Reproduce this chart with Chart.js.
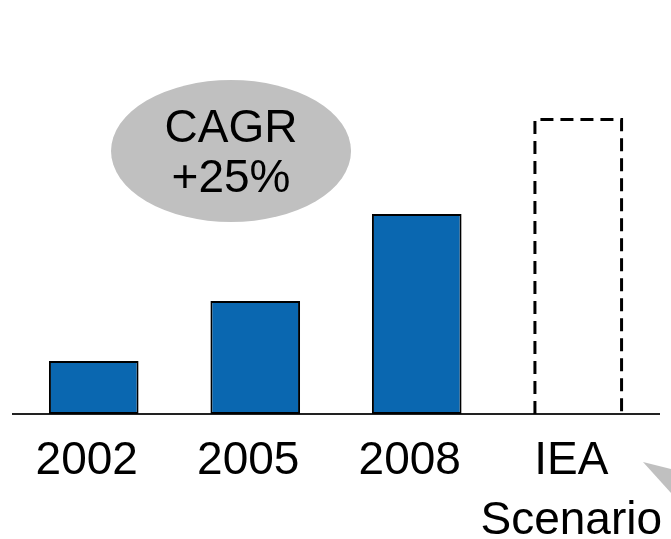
<!DOCTYPE html>
<html>
<head>
<meta charset="utf-8">
<script src="https://cdn.jsdelivr.net/npm/chart.js@4.4.1/dist/chart.umd.min.js"></script>
<style>
  html, body { margin: 0; padding: 0; background: #ffffff; }
  #wrap { width: 671px; height: 539px; position: relative; }
</style>
</head>
<body>
<div id="wrap"><canvas id="c" width="671" height="539"></canvas></div>
<script>
// ---- data ----
const categories = ["2002", "2005", "2008", ["IEA", "Scenario"]];
const values = [53, 113, 200, 296];
const isScenario = [false, false, false, true];
const yMax = 300;
const cagrLines = ["CAGR", "+25%"];

const FONT = "'Liberation Sans', Arial, Helvetica, sans-serif";
const BLUE = "#0a67b0";
const GREY = "#c0c0c0";

const overlayPlugin = {
  id: "overlay",
  beforeDatasetsDraw(chart) {
    const ctx = chart.ctx;
    const xs = chart.scales.x, ys = chart.scales.y;
    // CAGR ellipse annotation, anchored between first two categories
    const cx = xs.getPixelForValue(0.85);
    const cy = ys.getPixelForValue(263);
    ctx.save();
    ctx.fillStyle = GREY;
    ctx.beginPath();
    ctx.ellipse(cx, cy, 120, 71, 0, 0, Math.PI * 2);
    ctx.fill();
    ctx.fillStyle = "#000";
    ctx.font = "46px " + FONT;
    ctx.textAlign = "center";
    ctx.textBaseline = "middle";
    ctx.fillText(cagrLines[0], cx, cy - 22);
    ctx.fillText(cagrLines[1], cx, cy + 28);
    // grey arrow tip at bottom right
    ctx.fillStyle = GREY;
    ctx.beginPath();
    ctx.moveTo(643, 462);
    ctx.lineTo(671, 469);
    ctx.lineTo(671, 493);
    ctx.closePath();
    ctx.fill();
    ctx.restore();
  },
  afterDatasetsDraw(chart) {
    const ctx = chart.ctx;
    const meta = chart.getDatasetMeta(0);
    meta.data.forEach((bar, i) => {
      if (!isScenario[i]) return;
      const p = bar.getProps(["x", "y", "base", "width"], true);
      const lw = 3;
      const left = p.x - p.width / 2 + lw / 2;
      const right = p.x + p.width / 2 - lw / 2;
      const top = p.y + lw / 2;
      const bottom = p.base;
      ctx.save();
      ctx.strokeStyle = "#000";
      ctx.lineWidth = lw;
      ctx.setLineDash([13, 7]);
      ctx.beginPath();
      ctx.moveTo(left, bottom);
      ctx.lineTo(left, top);
      ctx.lineTo(right, top);
      ctx.lineTo(right, bottom);
      ctx.stroke();
      ctx.restore();
    });
  }
};

new Chart(document.getElementById("c"), {
  type: "bar",
  data: {
    labels: categories,
    datasets: [{
      data: values,
      backgroundColor: (c) => isScenario[c.dataIndex] ? "rgba(0,0,0,0)" : BLUE,
      borderColor: "#000",
      borderWidth: (c) => isScenario[c.dataIndex] ? 0 : 2,
      borderSkipped: false,
      barPercentage: 0.555,
      categoryPercentage: 1.0
    }]
  },
  options: {
    responsive: false,
    animation: false,
    devicePixelRatio: 1,
    layout: { padding: { top: 114, left: 13, right: 12, bottom: 0 } },
    plugins: { legend: { display: false }, tooltip: { enabled: false } },
    scales: {
      x: {
        grid: { display: false, drawTicks: false },
        border: { display: true, color: "#222", width: 2 },
        ticks: {
          color: "#000",
          padding: 17.5,
          labelOffset: -7,
          maxRotation: 0,
          autoSkip: false,
          font: { family: FONT, size: 46, lineHeight: 1.304 }
        },
        afterFit(scale) {
          scale.height = 125;
          scale.paddingLeft = 0;
          scale.paddingRight = 0;
        }
      },
      y: {
        display: false,
        min: 0,
        max: yMax
      }
    }
  },
  plugins: [overlayPlugin]
});
</script>
</body>
</html>
